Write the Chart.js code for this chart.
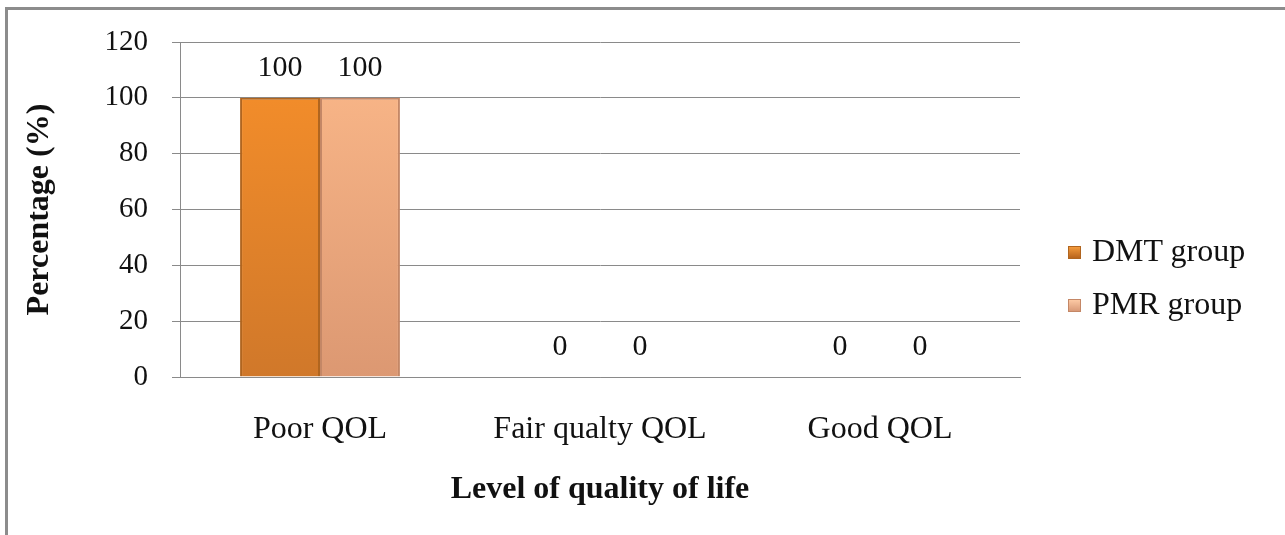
<!DOCTYPE html>
<html>
<head>
<meta charset="utf-8">
<script src="https://cdn.jsdelivr.net/npm/chart.js@4/dist/chart.umd.min.js"></script>
<style>
  html, body { margin: 0; padding: 0; background: #fff; }
  #wrap { position: relative; width: 1285px; height: 535px; overflow: hidden; }
  #frame { position: absolute; left: 5px; top: 7px; right: -10px; bottom: -10px;
           border-top: 3px solid #8c8c8c; border-left: 3px solid #8c8c8c; }
  #qolChart { position: absolute; left: 0; top: 0; }
  #legend { position: absolute; left: 1068px; top: 231px; margin: 0; padding: 0; list-style: none;
            font-family: 'Liberation Serif', 'Times New Roman', serif; font-size: 32px; color: #111; }
  #legend li { height: 53px; line-height: 38px; white-space: nowrap; }
  #legend span.box { display: inline-block; width: 13px; height: 13px; margin-right: 11px;
                     vertical-align: 2px; box-sizing: border-box; }
</style>
</head>
<body>
<div id="wrap">
  <div id="frame"></div>
  <canvas id="qolChart" width="1285" height="535"></canvas>
  <ul id="legend"></ul>
</div>
<script>
// Veriler
const categories = ['Poor QOL', 'Fair qualty QOL', 'Good QOL'];
const dmtValues = [100, 0, 0];
const pmrValues = [100, 0, 0];
const seriesNames = ['DMT group', 'PMR group'];
const yTicks = [0, 20, 40, 60, 80, 100, 120];

const serif = "'Liberation Serif', 'Times New Roman', serif";
const gridGray = '#8a8a8a';

// Dikey gradyan dolgu
function barGradient(top, bottom) {
    return (ctx) => {
        const area = ctx.chart.chartArea;
        if (!area) return top;
        const g = ctx.chart.ctx.createLinearGradient(0, area.top, 0, area.bottom);
        g.addColorStop(0, top);
        g.addColorStop(1, bottom);
        return g;
    };
}

// Çubukların üstüne değer yaz
const valueLabels = {
    id: 'valueLabels',
    afterDatasetsDraw(chart) {
        const ctx = chart.ctx;
        ctx.save();
        ctx.font = '30px ' + serif;
        ctx.fillStyle = '#111';
        ctx.textAlign = 'center';
        ctx.textBaseline = 'middle';
        chart.data.datasets.forEach((ds, i) => {
            chart.getDatasetMeta(i).data.forEach((bar, j) => {
                ctx.fillText(String(ds.data[j]), bar.x, bar.y - 30);
            });
        });
        ctx.restore();
    }
};

const chart = new Chart(document.getElementById('qolChart'), {
    type: 'bar',
    data: {
        labels: categories,
        datasets: [{
            label: seriesNames[0],
            data: dmtValues,
            backgroundColor: barGradient('#f8902a', '#d0782a'),
            borderColor: '#b0651f',
            borderWidth: 2,
            swatch: 'linear-gradient(#f39a3c, #b8641c)'
        }, {
            label: seriesNames[1],
            data: pmrValues,
            backgroundColor: barGradient('#fcb98a', '#dc9872'),
            borderColor: '#c48766',
            borderWidth: 2,
            swatch: 'linear-gradient(#fcc9a4, #d99a78)'
        }]
    },
    options: {
        responsive: false,
        animation: false,
        layout: { padding: { top: 42, right: 265, bottom: 0, left: 0 } },
        datasets: { bar: { categoryPercentage: 0.571, barPercentage: 1.0 } },
        plugins: { legend: { display: false }, tooltip: { enabled: false } },
        scales: {
            x: {
                grid: { display: false, drawTicks: false },
                border: { display: true, color: gridGray, width: 1 },
                ticks: { color: '#111', padding: 33, font: { family: serif, size: 32 } },
                title: {
                    display: true, text: 'Level of quality of life', color: '#111',
                    font: { family: serif, size: 32, weight: 'bold' },
                    padding: { top: 0, bottom: 26 }
                },
                afterFit(scale) { scale.height = 158; }
            },
            y: {
                min: 0, max: 120,
                afterBuildTicks(scale) { scale.ticks = yTicks.map(v => ({ value: v })); },
                grid: { color: gridGray, lineWidth: 1, tickLength: 8, drawTicks: true },
                border: { display: true, color: gridGray, width: 1 },
                ticks: { color: '#111', padding: 24, font: { family: serif, size: 29 } },
                title: {
                    display: true, text: 'Percentage (%)', color: '#111',
                    font: { family: serif, size: 32, weight: 'bold' },
                    padding: { top: 21, bottom: 0 }
                },
                afterFit(scale) { scale.width = 180; }
            }
        }
    },
    plugins: [valueLabels]
});

// HTML lejantı oluştur
const legendEl = document.getElementById('legend');
chart.data.datasets.forEach(ds => {
    const li = document.createElement('li');
    const box = document.createElement('span');
    box.className = 'box';
    box.style.background = ds.swatch;
    box.style.border = '1px solid ' + ds.borderColor;
    li.appendChild(box);
    li.appendChild(document.createTextNode(ds.label));
    legendEl.appendChild(li);
});
</script>
</body>
</html>
